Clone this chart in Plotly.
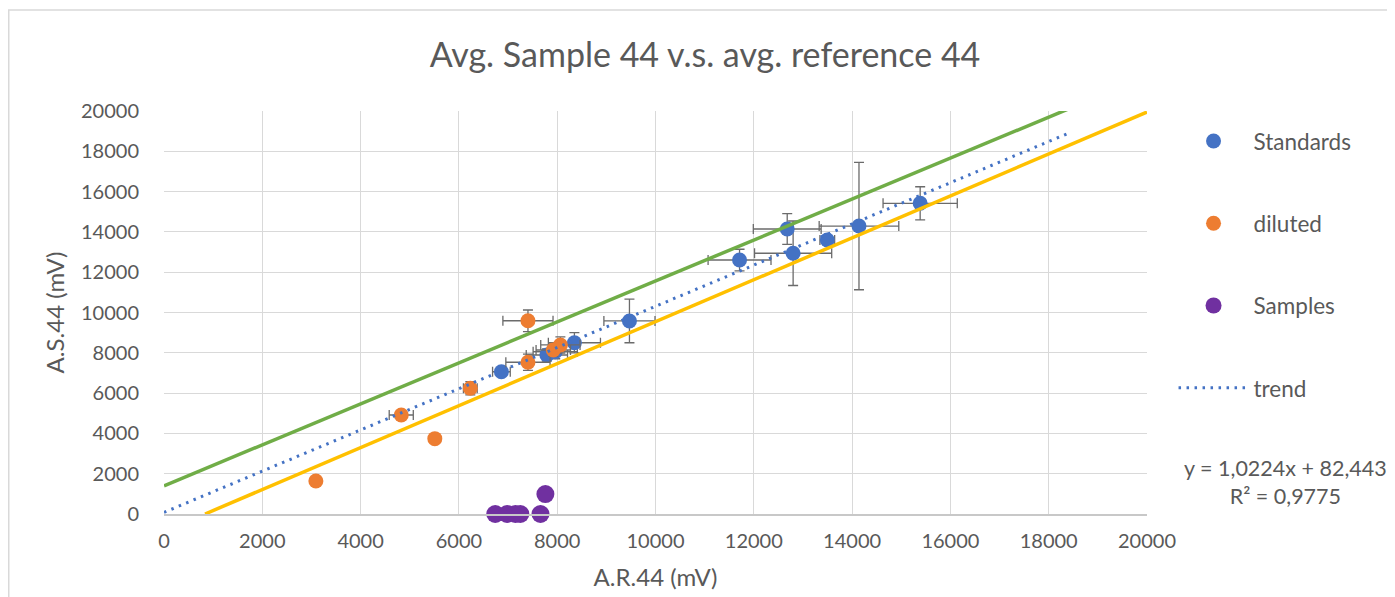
import plotly.graph_objects as go

# ---- data ----
std_x = [6865, 7790, 7960, 8350, 9470, 11710, 12680, 12800, 13495, 14140, 15385]
std_y = [7060, 7890, 8055, 8500, 9580, 12605, 14145, 12940, 13600, 14290, 15420]
std_ex = [180, 420, 450, 530, 520, 640, 690, 785, 150, 810, 755]
std_ey = [150, 300, 350, 500, 1080, 535, 760, 1600, 150, 3160, 820]

dil_x = [3090, 4827, 5510, 6232, 7405, 7405, 7920, 8065]
dil_y = [1640, 4913, 3740, 6240, 9590, 7530, 8140, 8390]
dil_ex = [0, 245, 0, 140, 510, 450, 350, 400]
dil_ey = [0, 120, 0, 330, 535, 400, 300, 400]

smp_x = [6740, 6980, 7150, 7250, 7660, 7760]
smp_y = [0, 0, 0, 0, 0, 990]

green_x = [0, 18400]
green_y = [1400, 20100]
yellow_x = [835, 20000]
yellow_y = [0, 19950]

trend_slope = 1.0224
trend_intercept = 82.443
trend_r2 = 0.9775
trend_x = [0, 18400]
trend_y = [trend_slope * v + trend_intercept for v in trend_x]

tick_vals = list(range(0, 20001, 2000))
tick_text = [str(v) for v in tick_vals]

FONT = "Lato"
GREY = "#595959"
ERR = "#6b6b6b"

# page body adds an 8px offset; positions below compensate for it
OFF = 8
W, H = 1395, 597
L, R, T, B = 164 - OFF, W - (1147 - OFF), 111 - OFF, H - (514 - OFF)

fig = go.Figure()

fig.add_trace(go.Scatter(
    x=std_x, y=std_y, mode="markers", name="Standards",
    marker=dict(color="#4472C4", size=15),
    error_x=dict(type="data", array=std_ex, color=ERR, thickness=1.3, width=5),
    error_y=dict(type="data", array=std_ey, color=ERR, thickness=1.3, width=5),
    legendgroup="a",
))
fig.add_trace(go.Scatter(
    x=dil_x, y=dil_y, mode="markers", name="diluted",
    marker=dict(color="#ED7D31", size=15),
    error_x=dict(type="data", array=dil_ex, color=ERR, thickness=1.3, width=5),
    error_y=dict(type="data", array=dil_ey, color=ERR, thickness=1.3, width=5),
    legendgroup="b",
))
fig.add_trace(go.Scatter(
    x=smp_x, y=smp_y, mode="markers", name="Samples",
    marker=dict(color="#7030A0", size=18),
    cliponaxis=False, legendgroup="c",
))
fig.add_trace(go.Scatter(
    x=green_x, y=green_y, mode="lines", showlegend=False,
    line=dict(color="#70AD47", width=3.5), cliponaxis=False,
))
fig.add_trace(go.Scatter(
    x=yellow_x, y=yellow_y, mode="lines", showlegend=False,
    line=dict(color="#FFC000", width=3.5), cliponaxis=False,
))
fig.add_trace(go.Scatter(
    x=trend_x, y=trend_y, mode="lines", name="trend",
    line=dict(color="#4472C4", width=3, dash="2.5px,5.5px"),
    legendgroup="d",
))

pw, ph = W - L - R, H - T - B

fig.add_annotation(
    xref="paper", yref="paper", x=(1285 - OFF - L) / pw, y=(H - B - (482 - OFF)) / ph,
    text=f"y = {str(trend_slope).replace('.', ',')}x + {str(trend_intercept).replace('.', ',')}<br>"
         f"R² = {str(trend_r2).replace('.', ',')}",
    showarrow=False, align="center", xanchor="center", yanchor="middle",
    font=dict(family=FONT, size=21.5, color=GREY),
)

# chart-area border
fig.add_shape(type="rect", xref="paper", yref="paper",
              x0=(0.75 - L) / pw, x1=1.3, y0=-0.3, y1=(H - B - (10 - OFF)) / ph,
              line=dict(color="#d9d9d9", width=1.5), layer="below")

fig.update_layout(
    width=W, height=H,
    margin=dict(l=L, r=R, t=T, b=B),
    paper_bgcolor="white", plot_bgcolor="white",
    font=dict(family=FONT, color=GREY, size=20),
    title=dict(text="Avg. Sample 44 v.s. avg. reference 44",
               x=(705 - OFF) / W, xanchor="center", xref="container",
               y=1 - (55 - OFF) / H, yanchor="middle", yref="container",
               font=dict(family=FONT, size=34, color=GREY)),
    legend=dict(x=1.027, xanchor="left", y=0.978, yanchor="top",
                font=dict(family=FONT, size=22.5, color=GREY),
                tracegroupgap=50, itemwidth=70, bgcolor="rgba(0,0,0,0)"),
    showlegend=True,
)

fig.update_xaxes(
    range=[0, 20000], tickvals=tick_vals, ticktext=tick_text,
    showgrid=True, gridcolor="#d9d9d9", gridwidth=1,
    zeroline=False, showline=True, linecolor="#c8c8c8", linewidth=1.5,
    ticks="outside", ticklen=8, tickcolor="rgba(0,0,0,0)",
    tickfont=dict(family=FONT, size=20, color=GREY),
    title=dict(text="A.R.44 (mV)", font=dict(family=FONT, size=24, color=GREY), standoff=18),
)
fig.update_yaxes(
    range=[0, 20000], tickvals=tick_vals, ticktext=tick_text,
    showgrid=True, gridcolor="#d9d9d9", gridwidth=1,
    zeroline=False, showline=False,
    ticks="outside", ticklen=20, tickcolor="rgba(0,0,0,0)",
    tickfont=dict(family=FONT, size=20, color=GREY),
    title=dict(text="A.S.44 (mV)", font=dict(family=FONT, size=24, color=GREY), standoff=9),
)

fig.write_html("out.html")
